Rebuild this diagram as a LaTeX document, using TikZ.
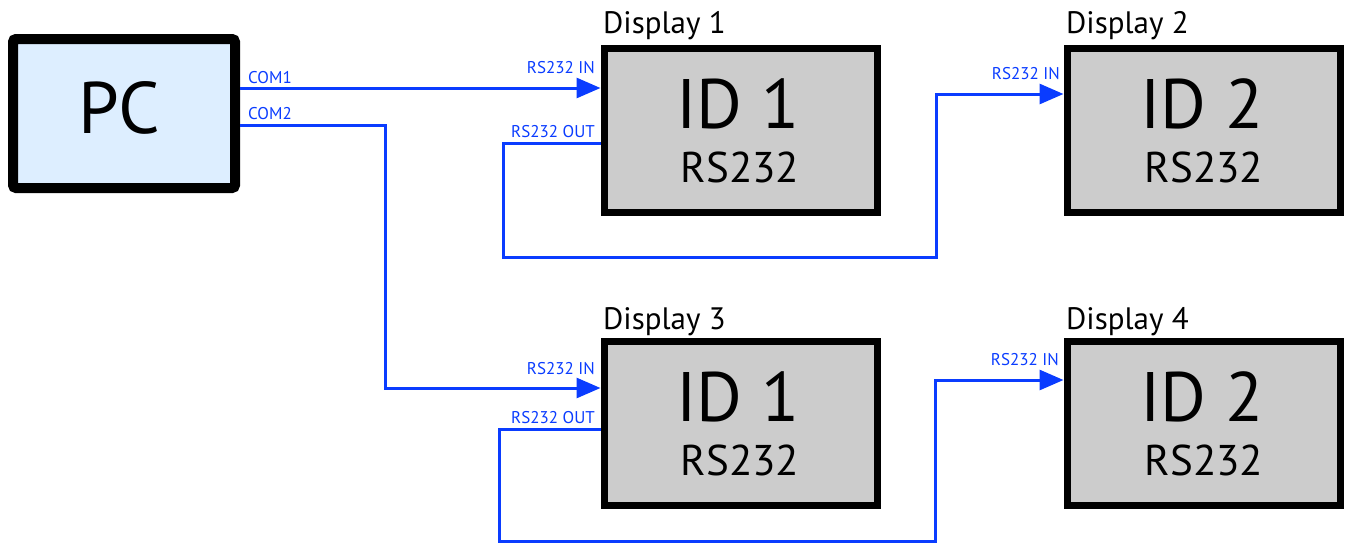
\documentclass[tikz,border=0pt]{standalone}
\usepackage{fontspec}
\setmainfont{PT Sans}
\usetikzlibrary{arrows.meta}
\definecolor{wireblue}{RGB}{10,60,255}
\definecolor{pcfill}{RGB}{221,238,255}
\definecolor{idfill}{RGB}{204,204,204}
\tikzset{
  pcbox/.style={draw=black, line width=10pt, fill=pcfill, rounded corners=3pt, minimum width=222pt, minimum height=149pt, inner sep=0pt},
  idbox/.style={draw=black, line width=7pt, fill=idfill, minimum width=273pt, minimum height=164pt, inner sep=0pt},
  wire/.style={draw=wireblue, line width=3pt},
  arr/.style={wire, -{Triangle[length=24pt,width=20pt]}},
  small/.style={text=wireblue, font=\fontsize{17}{17}\selectfont, inner sep=0pt},
  title/.style={font=\fontsize{31}{31}\selectfont, inner sep=0pt, anchor=base west},
  bigtxt/.style={font=\fontsize{70}{70}\selectfont, inner sep=0pt},
  midtxt/.style={font=\fontsize{43}{43}\selectfont, inner sep=0pt}
}
\begin{document}
\begin{tikzpicture}[x=1pt,y=-1pt]
\useasboundingbox (0,0) rectangle (1351,544);
% boxes
\node[pcbox] (pc) at (124,113.5) {};
\node[bigtxt, anchor=base, font=\fontsize{73}{73}\selectfont] (pct) at (119,133) {PC};
\node[idbox] (d1) at (740.5,130) {};
\node[idbox] (d2) at (1203.5,130) {};
\node[idbox] (d3) at (740.5,423) {};
\node[idbox] (d4) at (1203.5,423) {};
% titles
\node[title] (t1) at (603,33) {Display 1};
\node[title] (t2) at (1066,33) {Display 2};
\node[title] (t3) at (603,329) {Display 3};
\node[title] (t4) at (1066,329) {Display 4};
% inner texts
\foreach \n/\x/\y/\l in {a/738/128/1, b/1202/128/2, c/738/421/1, d/1202/421/2}{
  \node[bigtxt, anchor=base] (id\n) at (\x,\y) {ID \l};
  \node[midtxt, anchor=base] (rs\n) at (\x+2,\y+54) {RS232};
}
% wires
\coordinate (c2a) at (385,125);
\coordinate (c2b) at (385,388);
\draw[arr] (pc.east |- 0,88) -- (d1.west |- 0,88);
\draw[arr] (pc.east |- 0,125) -- (c2a) -- (c2b) -- (d3.west |- 0,388);
\coordinate (o1a) at (503,143);
\coordinate (o1b) at (503,257);
\coordinate (o1c) at (936,257);
\coordinate (o1d) at (936,94);
\draw[arr] (d1.west |- 0,143) -- (o1a) -- (o1b) -- (o1c) -- (o1d) -- (d2.west |- 0,94);
\coordinate (o3a) at (499,429);
\coordinate (o3b) at (499,541);
\coordinate (o3c) at (935,541);
\coordinate (o3d) at (935,380);
\draw[arr] (d3.west |- 0,429) -- (o3a) -- (o3b) -- (o3c) -- (o3d) -- (d4.west |- 0,380);
% labels
\node[small, anchor=base west] (lc1) at (248,83) {COM1};
\node[small, anchor=base west] (lc2) at (248,119) {COM2};
\node[small, anchor=base east] (l1i) at (595,73) {RS232 IN};
\node[small, anchor=base east] (l1o) at (595,137) {RS232 OUT};
\node[small, anchor=base east] (l2i) at (1060,79) {RS232 IN};
\node[small, anchor=base east] (l3i) at (595,374) {RS232 IN};
\node[small, anchor=base east] (l3o) at (595,423) {RS232 OUT};
\node[small, anchor=base east] (l4i) at (1059,365) {RS232 IN};
\end{tikzpicture}
\end{document}
